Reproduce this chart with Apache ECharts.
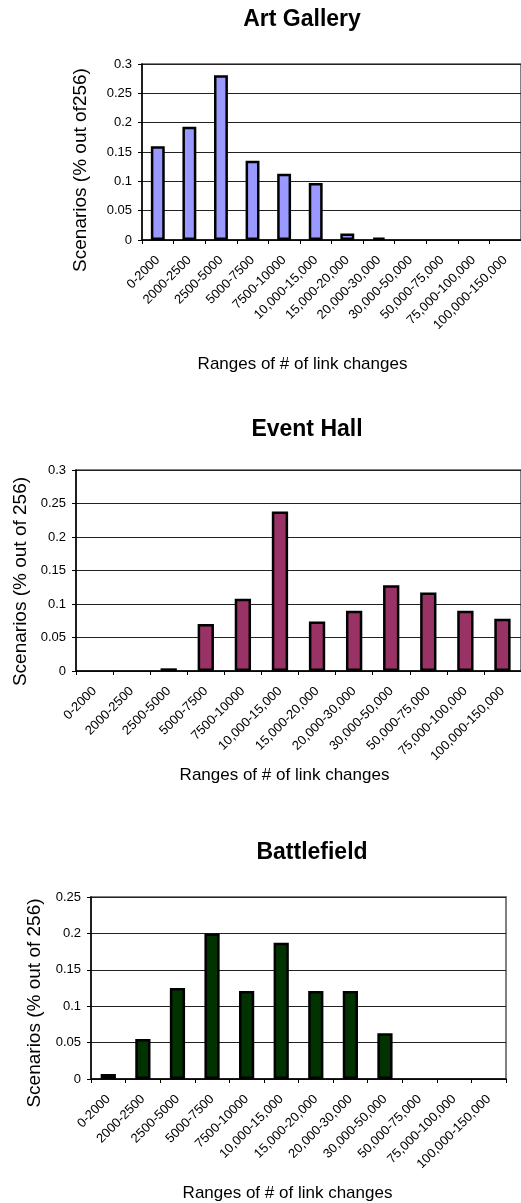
<!DOCTYPE html>
<html>
<head>
<meta charset="utf-8">
<script src="https://cdn.jsdelivr.net/npm/echarts@6/dist/echarts.min.js"></script>
<style>
  html, body { margin: 0; padding: 0; background: #fff; }
  #chart { width: 521px; height: 1203px; }
</style>
</head>
<body>
<div id="chart"></div>
<script>
// link-change ranges, shared by the three panels
const categories = [
  '0-2000', '2000-2500', '2500-5000', '5000-7500', '7500-10000',
  '10,000-15,000', '15,000-20,000', '20,000-30,000', '30,000-50,000',
  '50,000-75,000', '75,000-100,000', '100,000-150,000'
]
const artGallery = [0.16, 0.193, 0.281, 0.135, 0.113, 0.097, 0.011, 0.004, 0, 0, 0, 0]
const eventHall = [0, 0, 0.004, 0.07, 0.108, 0.238, 0.074, 0.09, 0.128, 0.117, 0.09, 0.078]
const battlefield = [0.007, 0.055, 0.125, 0.2, 0.121, 0.187, 0.121, 0.121, 0.063, 0, 0, 0]

const titles = ['Art Gallery', 'Event Hall', 'Battlefield']
const yNames = ['Scenarios (% out of256)', 'Scenarios (% out of 256)', 'Scenarios (% out of 256)']
const xName = 'Ranges of # of link changes'
const yMax = [0.3, 0.3, 0.25]

const FONT = "'Liberation Sans', Arial, sans-serif"
const COLORS = ['#9999ff', '#993366', '#003300']

// panel layout (px)
const panels = [
  { left: 142, top: 64, width: 381, height: 176, titleX: 302, titleY: 8, yGap: 52, yShift: 36, xGap: 116, xShift: 58 },
  { left: 76, top: 470, width: 449, height: 201, titleX: 307, titleY: 418, yGap: 45, yShift: 22, xGap: 96, xShift: 28 },
  { left: 91, top: 897, width: 415, height: 182, titleX: 312, titleY: 841, yGap: 47, yShift: 30, xGap: 106, xShift: 22 }
]
const seriesData = [artGallery, eventHall, battlefield]

const chart = echarts.init(document.getElementById('chart'), null, { renderer: 'canvas' })

chart.setOption({
  animation: false,
  textStyle: { fontFamily: FONT },
  title: panels.map((p, i) => ({
    text: titles[i],
    left: p.titleX,
    top: p.titleY,
    textAlign: 'center',
    padding: 0,
    textStyle: { fontFamily: FONT, fontSize: 23, fontWeight: 'bold', color: '#000' }
  })),
  grid: panels.map(p => ({
    left: p.left, top: p.top, width: p.width, height: p.height,
    show: true, borderColor: '#808080', borderWidth: 2, backgroundColor: 'transparent'
  })),
  xAxis: panels.map((p, i) => ({
    type: 'category',
    gridIndex: i,
    data: categories,
    boundaryGap: true,
    name: xName,
    nameLocation: 'middle',
    nameGap: p.xGap,
    nameTextStyle: { fontFamily: FONT, fontSize: 17, color: '#000', padding: [0, p.xShift, 0, 0] },
    axisLine: { lineStyle: { color: '#000', width: 1.5 } },
    axisTick: { show: true, length: 4, lineStyle: { color: '#000' } },
    axisLabel: { rotate: 45, interval: 0, margin: 18, fontFamily: FONT, fontSize: 13, color: '#000' },
    splitLine: { show: false }
  })),
  yAxis: panels.map((p, i) => ({
    type: 'value',
    gridIndex: i,
    min: 0,
    max: yMax[i],
    interval: 0.05,
    name: yNames[i],
    nameLocation: 'middle',
    nameGap: p.yGap,
    nameTextStyle: { fontFamily: FONT, fontSize: 19, color: '#000', padding: [0, p.yShift, 0, 0] },
    axisLine: { show: true, lineStyle: { color: '#000', width: 1.5 } },
    axisTick: { show: true, length: 4, lineStyle: { color: '#000' } },
    axisLabel: { margin: 10, fontFamily: FONT, fontSize: 13, color: '#000' },
    splitLine: { show: true, lineStyle: { color: '#222', width: 1 } }
  })),
  series: seriesData.map((d, i) => ({
    type: 'bar',
    xAxisIndex: i,
    yAxisIndex: i,
    // empty ranges draw nothing, as in the original
    data: d.map(v => (v === 0 ? { value: 0, itemStyle: { borderWidth: 0 } } : v)),
    barWidth: '44%',
    itemStyle: { color: COLORS[i], borderColor: '#000', borderWidth: 2.5 }
  }))
})
</script>
</body>
</html>
